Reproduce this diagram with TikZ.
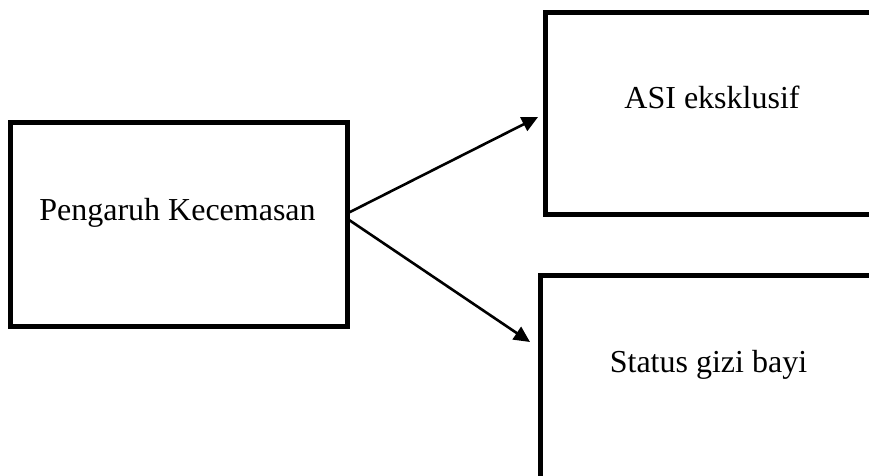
\documentclass[tikz,border=0pt]{standalone}
\usepackage{fontspec}
\setmainfont{Liberation Serif}
\usetikzlibrary{arrows.meta}
\begin{document}
\begin{tikzpicture}[x=1pt,y=-1pt,
  box/.style={draw=black,line width=5pt,inner sep=0pt,rectangle},
  lbl/.style={anchor=base,inner sep=0pt,font=\fontsize{32}{38}\selectfont},
  conn/.style={line width=2.6pt,-{Triangle[length=16pt,width=15pt]}}]
\useasboundingbox (0,0) rectangle (869,475);
\clip (0,0) rectangle (869,475);
\node[box,minimum width=336.5pt,minimum height=203.5pt] (L) at (178.75,224.25) {};
\node[box,minimum width=349.5pt,minimum height=202pt] (A) at (720.25,113) {};
\node[box,minimum width=355pt,minimum height=224.5pt] (B) at (717.5,387.75) {};
\node[lbl] (tL) at (177.5,220) {Pengaruh Kecemasan};
\node[lbl] (tA) at (712,108) {ASI eksklusif};
\node[lbl] (tB) at (708.5,372) {Status gizi bayi};
\coordinate (s1) at ([yshift=12pt]L.east);
\coordinate (s2) at ([yshift=4pt]L.east);
\coordinate (e1) at (538,117);
\coordinate (e2) at (530,342);
\draw[conn] (s1) -- (e1);
\draw[conn] (s2) -- (e2);
\end{tikzpicture}
\end{document}
